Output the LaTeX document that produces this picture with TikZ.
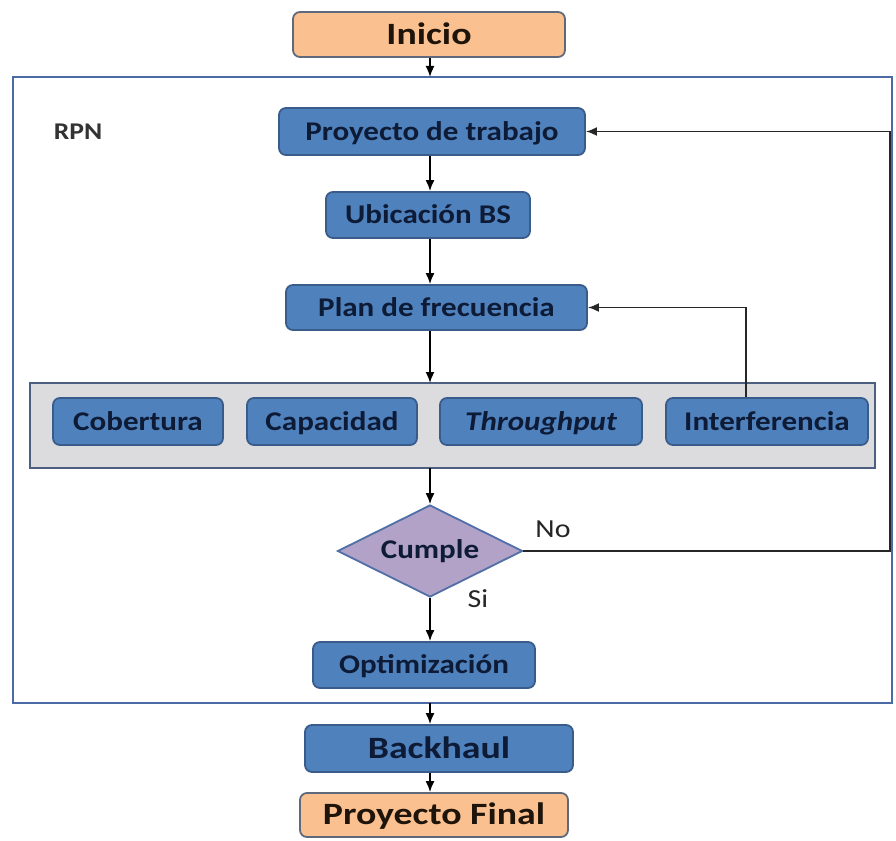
\documentclass[tikz,border=0pt]{standalone}
\usepackage{fontspec}
\setmainfont{Carlito}
\usepackage{graphicx}
\usetikzlibrary{shapes.geometric,arrows.meta,calc}
\definecolor{boxblue}{HTML}{4F81BD}
\definecolor{blueedge}{HTML}{3A5C8A}
\definecolor{bluetext}{HTML}{0D1B36}
\definecolor{boxorange}{HTML}{FAC08F}
\definecolor{orangeedge}{HTML}{5E6A7C}
\definecolor{orangetext}{HTML}{1E140A}
\definecolor{boxpurple}{HTML}{B3A2C7}
\definecolor{purpleedge}{HTML}{4F6FA6}
\definecolor{boxgray}{HTML}{DCDCDE}
\definecolor{grayedge}{HTML}{4C5F80}
\definecolor{outeredge}{HTML}{4A6BA5}
\definecolor{linecol}{HTML}{262626}
\newcommand{\sx}[1]{\scalebox{1.15}[1]{#1}}
\newcommand{\bx}[1]{\scalebox{1.22}[1]{#1}}
\begin{document}
\begin{tikzpicture}[x=1pt,y=-1pt,
  bluebox/.style={draw=blueedge,line width=1.8pt,fill=boxblue,rounded corners=7pt,
    minimum height=46pt,text=bluetext,font=\fontsize{27}{30}\selectfont\bfseries,inner sep=0pt,
    text height=20pt,text depth=3pt},
  bigtext/.style={font=\fontsize{31}{34}\selectfont\bfseries,text height=22.5pt,text depth=3pt},
  orangebox/.style={draw=orangeedge,line width=1.8pt,fill=boxorange,rounded corners=7pt,
    minimum height=45pt,text=orangetext,inner sep=0pt,bigtext},
  decision/.style={diamond,draw=purpleedge,line width=1.8pt,fill=boxpurple,
    minimum width=185pt,minimum height=92pt,inner sep=0pt,aspect=2,
    text=bluetext,font=\fontsize{27}{30}\selectfont\bfseries},
  lbl/.style={text=linecol,font=\fontsize{26}{28}\selectfont,inner sep=0pt},
  arr/.style={draw=black,line width=1.7pt,-{Latex[length=11pt,width=9pt]}},
  fb/.style={draw=linecol,line width=1.9pt,-{Latex[length=11pt,width=9pt]}}
]
\useasboundingbox (0,0) rectangle (896,840);
\fill[white] (0,0) rectangle (896,840);

% outer RPN container
\draw[draw=outeredge,line width=2.6pt] (13,77) rectangle (892,703);
\node[text=black!80,font=\fontsize{24}{26}\selectfont\bfseries,inner sep=0pt] (rpn) at (78,132) {\sx{RPN}};

% gray band
\draw[draw=grayedge,fill=boxgray,line width=1.8pt] (30,383) rectangle (875,468);
\coordinate (bandtop) at (430,383);
\coordinate (bandbot) at (430,468);
\coordinate (outertop) at (430,77);
\coordinate (outerbot) at (430,703);

% nodes
\node[orangebox,minimum width=272pt] (inicio) at (429,34.5) {\bx{Inicio}};
\node[bluebox,minimum width=306pt,minimum height=47pt] (proy) at (432,131.5) {\sx{Proyecto de trabajo}};
\node[bluebox,minimum width=204pt] (ubic) at (428,215) {\sx{Ubicación BS}};
\node[bluebox,minimum width=301pt,minimum height=45pt] (plan) at (436.5,307.5) {\sx{Plan de frecuencia}};

\node[bluebox,minimum width=170pt,minimum height=47pt] (cob) at (138,421.5) {\sx{Cobertura}};
\node[bluebox,minimum width=170pt,minimum height=47pt] (cap) at (332,421.5) {\sx{Capacidad}};
\node[bluebox,minimum width=202pt,minimum height=47pt] (thr) at (541,421.5) {\sx{\itshape Throughput}};
\node[bluebox,minimum width=202pt,minimum height=47pt] (intf) at (767,421.5) {\sx{Interferencia}};

\node[decision] (cumple) at (430,551) {\sx{Cumple}};
\node[bluebox,minimum width=222pt] (opt) at (424,665) {\sx{Optimización}};
\node[bluebox,bigtext,minimum width=268pt,minimum height=47pt] (back) at (439,748.5) {\bx{Backhaul}};
\node[orangebox,minimum width=268pt,minimum height=44pt] (final) at (434,815) {\bx{Proyecto Final}};

\node[lbl] (no) at (553,529) {\sx{No}};
\node[lbl] (si) at (478,599) {\sx{Si}};

% main flow
\draw[arr] (inicio.south -| outertop) -- (outertop);
\draw[arr] (proy.south -| outertop) -- (ubic.north -| outertop);
\draw[arr] (ubic.south -| outertop) -- (plan.north -| outertop);
\draw[arr] (plan.south -| outertop) -- (bandtop);
\draw[arr] (bandbot) -- (cumple.north);
\draw[arr] (cumple.south) -- (opt.north -| cumple.south);
\draw[arr] (outerbot) -- (back.north -| outerbot);
\draw[arr] (back.south -| outerbot) -- (final.north -| outerbot);

% feedback loops
\coordinate (rc) at (890,551);
\draw[fb] (intf.north -| 746,0) |- (plan.east);
\draw[fb] (cumple.east) -- (rc) |- (proy.east);
\end{tikzpicture}
\end{document}
